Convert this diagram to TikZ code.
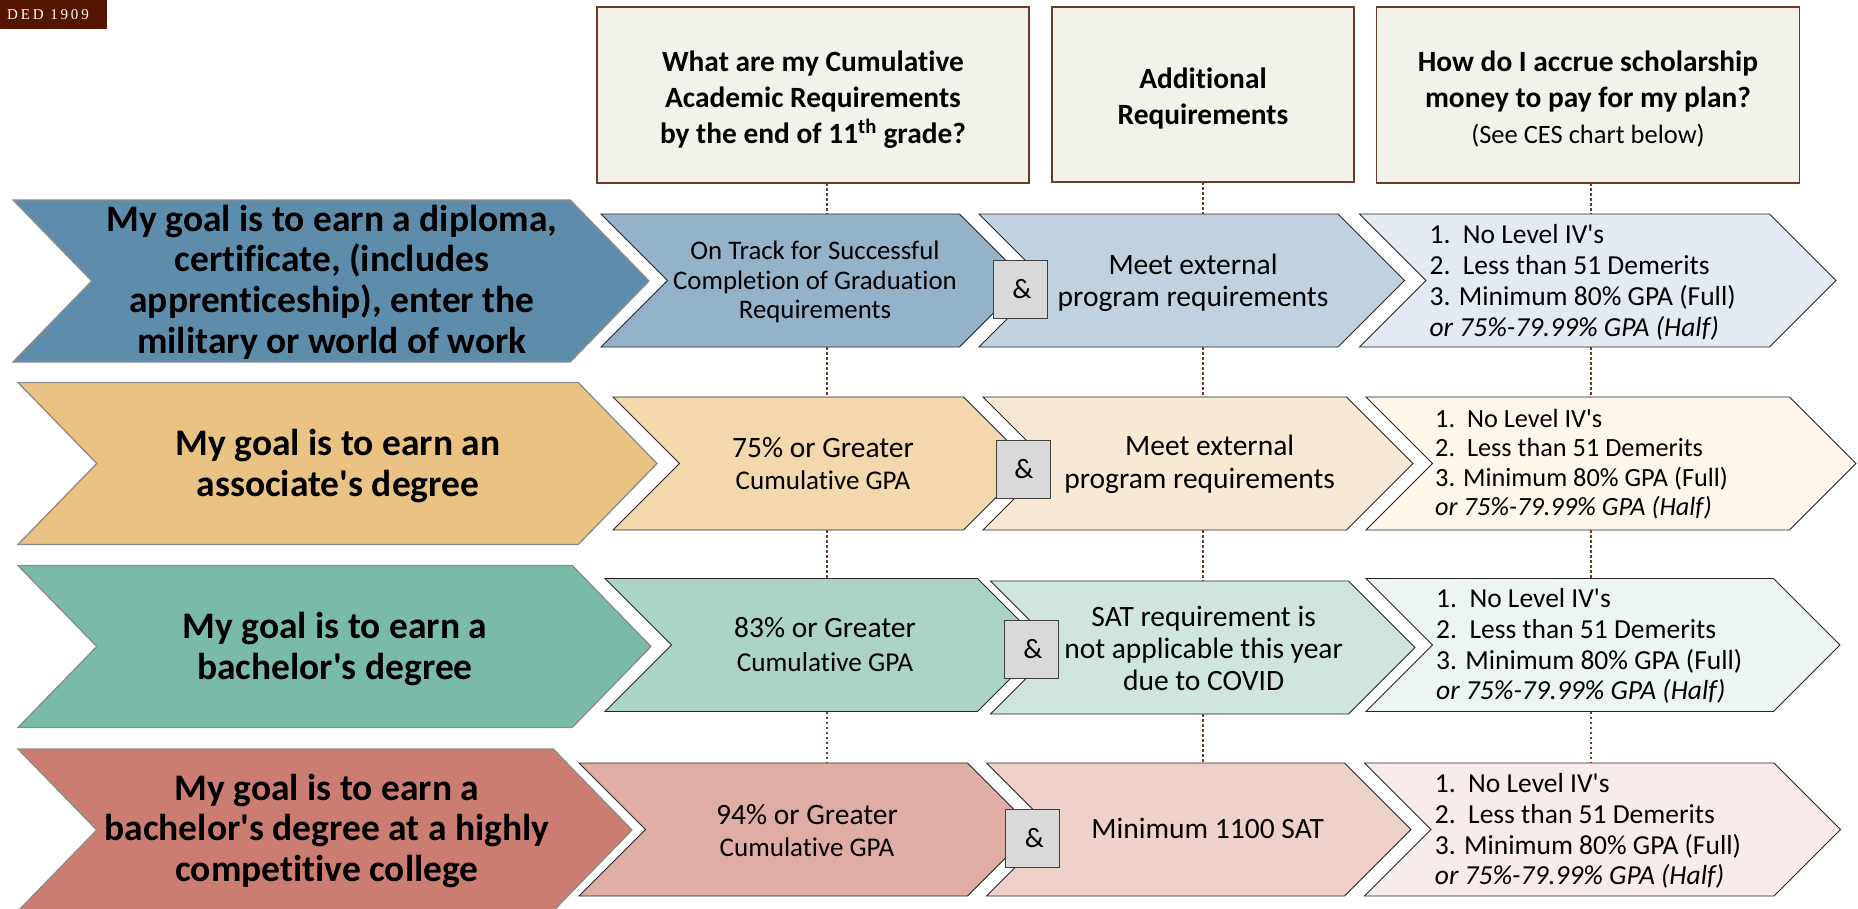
\documentclass[tikz,border=0pt]{standalone}
\usepackage{fontspec}
\setmainfont{Carlito}[Ligatures={TeXOff,NoCommon}]
\newfontfamily\logofont{Liberation Serif}
\usepackage{tikz}
\usetikzlibrary{shapes.symbols}
\definecolor{hdrfill}{HTML}{F2F1EA}
\definecolor{hdrline}{HTML}{6E3A2C}
\definecolor{logobg}{HTML}{551500}
\definecolor{blue1}{HTML}{5E8CAB}
\definecolor{blue2}{HTML}{94B3C9}
\definecolor{blue3}{HTML}{C2D1E0}
\definecolor{blue4}{HTML}{E4EAF2}
\definecolor{orange1}{HTML}{E9C284}
\definecolor{orange2}{HTML}{F3D8AE}
\definecolor{orange3}{HTML}{F8E9D4}
\definecolor{orange4}{HTML}{FEF6EB}
\definecolor{green1}{HTML}{7ABAA8}
\definecolor{green2}{HTML}{ACD3C8}
\definecolor{green3}{HTML}{D0E5DF}
\definecolor{green4}{HTML}{ECF5F2}
\definecolor{red1}{HTML}{CB7D71}
\definecolor{red2}{HTML}{E0ADA5}
\definecolor{red3}{HTML}{EFD1CC}
\definecolor{red4}{HTML}{F7ECE9}
\tikzstyle{chev}=[shape=signal, signal to=east, signal from=west, signal pointer angle=90, minimum height=133pt, inner sep=0pt, outer sep=0pt, draw=black!85, line width=0.9pt]
\tikzstyle{goalchev}=[chev, signal pointer angle=91.6, minimum height=162pt, draw=black!45, line width=1.3pt]
\tikzstyle{hdr}=[rectangle, draw=hdrline, fill=hdrfill, line width=1.2pt, inner sep=0pt, outer sep=0pt, align=center, font=\fontsize{29.4}{36}\selectfont\bfseries]
\tikzstyle{andbox}=[rectangle, draw=black!75, fill=black!15, line width=1pt, minimum width=54pt, minimum height=58pt, inner sep=0pt, outer sep=0pt, font=\fontsize{28}{30}\selectfont]
\tikzstyle{goaltxt}=[align=center, inner sep=0pt, font=\fontsize{37.5}{40.7}\selectfont\bfseries]
\tikzstyle{midtxt}=[align=center, inner sep=0pt, font=\fontsize{29.5}{32}\selectfont]
\tikzstyle{listtxt}=[align=left, anchor=west, inner sep=0pt, font=\fontsize{27.5}{30.7}\selectfont]
\tikzstyle{dotline}=[draw=hdrline, line width=1.4pt, dash pattern=on 2.5pt off 2.5pt]
\newcommand{\smalltxt}{\fontsize{27}{32}\selectfont}
\newcommand{\hdrpad}{\rule{0pt}{29pt}}

\begin{document}
\begin{tikzpicture}[x=1pt, y=-1pt]
        \path[use as bounding box, clip] (0,0) rectangle (1858,908);
        \node[rectangle, fill=logobg, minimum width=107pt, minimum height=29pt, inner sep=0pt, text=white, font=\logofont\fontsize{15}{18}\selectfont] (logo) at (53.5,14.5) {\addfontfeature{LetterSpace=19}DED 1909\hspace*{11pt}};
        % Columnas
        \coordinate (col1) at (827,0);
        \coordinate (col2) at (1203,0);
        \coordinate (col3) at (1591,0);

        %% Headers
        \node[hdr, minimum width=432pt, minimum height=176pt] (hdr1) at (813,95) {\hdrpad What are my Cumulative\\Academic Requirements\\by the end of 11\textsuperscript{th} grade?};
        \node[hdr, minimum width=302pt, minimum height=175pt] (hdr2) at (1203,94.5) {\hdrpad Additional\\Requirements};
        \node[hdr, minimum width=422.5pt, minimum height=176pt] (hdr3) at (1588,95) {\hdrpad How do I accrue scholarship\\money to pay for my plan?\\{\fontsize{26.5}{34}\selectfont\mdseries (See CES chart below)}};

        %% Diploma
        \node[goalchev, fill=blue1, minimum width=636pt] (1_g) at (331,281) {};
        \node[chev, fill=blue2, minimum width=425pt] (1_a) at (813.5,280.5) {};
        \node[chev, fill=blue3, minimum width=425.5pt] (1_b) at (1191.75,280.5) {};
        \node[chev, fill=blue4, minimum width=476.6pt] (1_c) at (1597.7,280.5) {};
        \node[goaltxt] (1_gt) at (332,282) {My goal is to earn a diploma,\\certificate, (includes\\apprenticeship), enter the\\military or world of work};
        \node[midtxt, font=\fontsize{26.8}{29.3}\selectfont] (1_at) at (815,282) {On Track for Successful\\Completion of Graduation\\Requirements};
        \node[midtxt] (1_bt) at (1193,283) {Meet external\\program requirements};
        \node[listtxt, font=\fontsize{27.5}{31}\selectfont] (1_ct) at (1429.4,282) {1.\ \ No Level IV's\\2.\ \ Less than 51 Demerits\\3. Minimum 80\% GPA (Full)\\\textit{or 75\%-79.99\% GPA (Half)}};

        %% Associate
        \node[goalchev, fill=orange1, minimum width=639pt] (2_g) at (337.5,463.5) {};
        \node[chev, fill=orange2, minimum width=417pt] (2_a) at (821.5,463.5) {};
        \node[chev, fill=orange3, minimum width=430pt] (2_b) at (1198,463.5) {};
        \node[chev, fill=orange4, minimum width=490pt] (2_c) at (1611,463.5) {};
        \node[goaltxt] (2_gt) at (338,466) {My goal is to earn an\\associate's degree};
        \node[midtxt] (2_at) at (823,464) {75\% or Greater\\{\smalltxt Cumulative GPA}};
        \node[midtxt, font=\fontsize{29.5}{33}\selectfont] (2_bt) at (1199.6,464.5) {\hspace*{20pt}Meet external\\program requirements};
        \node[listtxt, font=\fontsize{26.3}{29.5}\selectfont] (2_ct) at (1435,464) {1.\ \ No Level IV's\\2.\ \ Less than 51 Demerits\\3. Minimum 80\% GPA (Full)\\\textit{or 75\%-79.99\% GPA (Half)}};

        %% Bachelor
        \node[goalchev, fill=green1, minimum width=633pt] (3_g) at (334.5,646.5) {};
        \node[chev, fill=green2, minimum width=439pt] (3_a) at (824.5,645) {};
        \node[chev, fill=green3, minimum width=424.5pt] (3_b) at (1202.75,647.5) {};
        \node[chev, fill=green4, minimum width=474pt] (3_c) at (1603,645) {};
        \node[goaltxt] (3_gt) at (335,649) {My goal is to earn a\\bachelor's degree};
        \node[midtxt, font=\fontsize{29.5}{34}\selectfont] (3_at) at (825,645) {83\% or Greater\\{\fontsize{27.3}{34}\selectfont Cumulative GPA}};
        \node[midtxt] (3_bt) at (1203.6,648) {SAT requirement is\\not applicable this year\\due to COVID};
        \node[listtxt] (3_ct) at (1436,646) {1.\ \ No Level IV's\\2.\ \ Less than 51 Demerits\\3. Minimum 80\% GPA (Full)\\\textit{or 75\%-79.99\% GPA (Half)}};

        %% Highly competitive
        \node[goalchev, fill=red1, minimum width=614pt] (4_g) at (325,830) {};
        \node[chev, fill=red2, minimum width=455pt] (4_a) at (806.5,829.5) {};
        \node[chev, fill=red3, minimum width=424.5pt] (4_b) at (1198.75,829.5) {};
        \node[chev, fill=red4, minimum width=476pt] (4_c) at (1602.5,829.5) {};
        \node[goaltxt] (4_gt) at (327,831) {My goal is to earn a\\bachelor's degree at a highly\\competitive college};
        \node[midtxt] (4_at) at (807,830.5) {94\% or Greater\\{\smalltxt Cumulative GPA}};
        \node[midtxt] (4_bt) at (1207.7,828) {Minimum 1100 SAT};
        \node[listtxt] (4_ct) at (1434.7,831) {1.\ \ No Level IV's\\2.\ \ Less than 51 Demerits\\3. Minimum 80\% GPA (Full)\\\textit{or 75\%-79.99\% GPA (Half)}};

        %% Ampersands
        \node[andbox] (1_and) at (1020,289.5) {\hspace*{4pt}\&};
        \node[andbox] (2_and) at (1023,469) {\hspace*{2pt}\&};
        \node[andbox] (3_and) at (1031,649) {\hspace*{4pt}\&};
        \node[andbox] (4_and) at (1032.5,838) {\hspace*{4pt}\&};

        %% Dotted lines
        \draw[dotline] (hdr1.south -| col1) -- (1_a.north -| col1);
        \draw[dotline] (1_a.south -| col1) -- (2_a.north -| col1);
        \draw[dotline] (2_a.south -| col1) -- (3_a.north -| col1);
        \draw[dotline] (3_a.south -| col1) -- (4_a.north -| col1);
        \draw[dotline] (hdr2.south -| col2) -- (1_b.north -| col2);
        \draw[dotline] (1_b.south -| col2) -- (2_b.north -| col2);
        \draw[dotline] (2_b.south -| col2) -- (3_b.north -| col2);
        \draw[dotline] (3_b.south -| col2) -- (4_b.north -| col2);
        \draw[dotline] (hdr3.south -| col3) -- (1_c.north -| col3);
        \draw[dotline] (1_c.south -| col3) -- (2_c.north -| col3);
        \draw[dotline] (2_c.south -| col3) -- (3_c.north -| col3);
        \draw[dotline] (3_c.south -| col3) -- (4_c.north -| col3);
    \end{tikzpicture}
\end{document}
